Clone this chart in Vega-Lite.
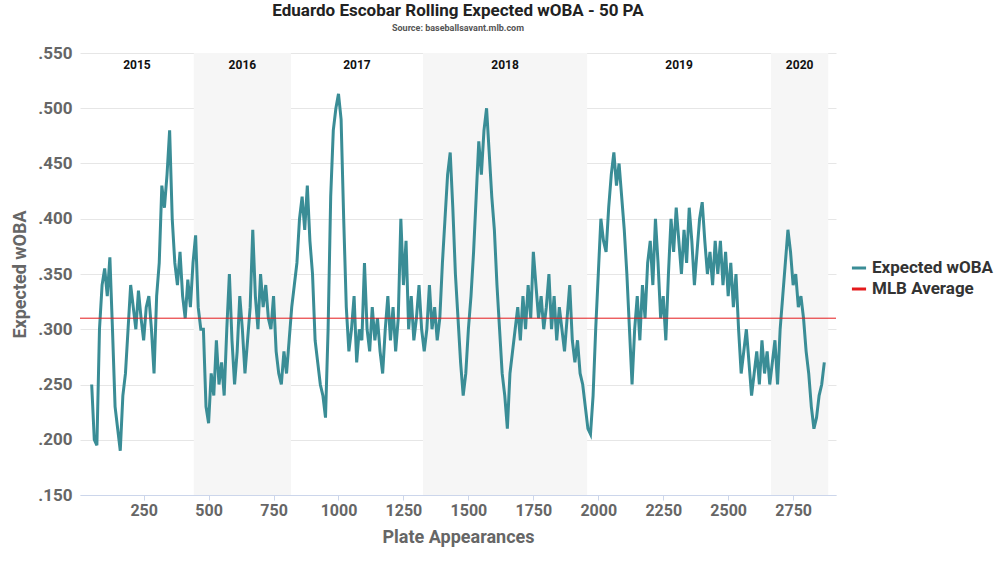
{
  "$schema": "https://vega.github.io/schema/vega-lite/v6.json",
  "width": 756,
  "height": 442,
  "autosize": "none",
  "padding": {"left": 80, "top": 53, "right": 164, "bottom": 68},
  "background": "white",
  "config": {"font": "Roboto", "view": {"stroke": null}},
  "title": {
    "text": "Eduardo Escobar Rolling Expected wOBA - 50 PA",
    "subtitle": "Source: baseballsavant.mlb.com",
    "fontSize": 17, "fontWeight": "bold", "color": "#222",
    "subtitleFontSize": 9, "subtitleFontWeight": "bold", "subtitleColor": "#555",
    "anchor": "middle", "offset": 10, "subtitlePadding": 4
  },
  "datasets": {
    "years": [
      {"year": "2015", "x1": 5, "x2": 443, "shade": "no"},
      {"year": "2016", "x1": 443, "x2": 817, "shade": "yes"},
      {"year": "2017", "x1": 817, "x2": 1325, "shade": "no"},
      {"year": "2018", "x1": 1325, "x2": 1957, "shade": "yes"},
      {"year": "2019", "x1": 1957, "x2": 2665, "shade": "no"},
      {"year": "2020", "x1": 2665, "x2": 2885, "shade": "yes"}
    ],
    "avg": [{"v": 0.31}],
    "xwoba": [
      {"pa":50,"v":0.25},{"pa":60,"v":0.2},{"pa":70,"v":0.195},{"pa":80,"v":0.3},{"pa":90,"v":0.34},{"pa":100,"v":0.355},{"pa":110,"v":0.33},{"pa":120,"v":0.365},{"pa":130,"v":0.3},{"pa":140,"v":0.23},{"pa":150,"v":0.21},{"pa":160,"v":0.19},{"pa":170,"v":0.24},{"pa":180,"v":0.26},{"pa":190,"v":0.3},{"pa":200,"v":0.34},{"pa":210,"v":0.32},{"pa":220,"v":0.3},{"pa":230,"v":0.335},{"pa":240,"v":0.31},{"pa":250,"v":0.29},{"pa":260,"v":0.32},{"pa":270,"v":0.33},{"pa":280,"v":0.3},{"pa":290,"v":0.26},{"pa":300,"v":0.33},{"pa":310,"v":0.36},{"pa":320,"v":0.43},{"pa":330,"v":0.41},{"pa":340,"v":0.44},{"pa":350,"v":0.48},{"pa":360,"v":0.4},{"pa":370,"v":0.36},{"pa":380,"v":0.34},{"pa":390,"v":0.37},{"pa":400,"v":0.33},{"pa":410,"v":0.31},{"pa":420,"v":0.345},{"pa":430,"v":0.32},{"pa":440,"v":0.36},{"pa":450,"v":0.385},{"pa":460,"v":0.32},{"pa":470,"v":0.3},{"pa":480,"v":0.3},{"pa":490,"v":0.23},{"pa":500,"v":0.215},{"pa":510,"v":0.26},{"pa":520,"v":0.24},{"pa":530,"v":0.29},{"pa":540,"v":0.25},{"pa":550,"v":0.27},{"pa":560,"v":0.24},{"pa":570,"v":0.3},{"pa":580,"v":0.35},{"pa":590,"v":0.29},{"pa":600,"v":0.25},{"pa":610,"v":0.28},{"pa":620,"v":0.33},{"pa":630,"v":0.3},{"pa":640,"v":0.26},{"pa":650,"v":0.29},{"pa":660,"v":0.32},{"pa":670,"v":0.39},{"pa":680,"v":0.33},{"pa":690,"v":0.3},{"pa":700,"v":0.35},{"pa":710,"v":0.32},{"pa":720,"v":0.34},{"pa":730,"v":0.31},{"pa":740,"v":0.3},{"pa":750,"v":0.33},{"pa":760,"v":0.28},{"pa":770,"v":0.26},{"pa":780,"v":0.25},{"pa":790,"v":0.28},{"pa":800,"v":0.26},{"pa":810,"v":0.29},{"pa":820,"v":0.32},{"pa":830,"v":0.34},{"pa":840,"v":0.36},{"pa":850,"v":0.4},{"pa":860,"v":0.42},{"pa":870,"v":0.39},{"pa":880,"v":0.43},{"pa":890,"v":0.38},{"pa":900,"v":0.35},{"pa":910,"v":0.29},{"pa":920,"v":0.27},{"pa":930,"v":0.25},{"pa":940,"v":0.24},{"pa":950,"v":0.22},{"pa":960,"v":0.3},{"pa":970,"v":0.42},{"pa":980,"v":0.48},{"pa":990,"v":0.5},{"pa":1000,"v":0.513},{"pa":1010,"v":0.49},{"pa":1020,"v":0.4},{"pa":1030,"v":0.32},{"pa":1040,"v":0.28},{"pa":1050,"v":0.3},{"pa":1060,"v":0.33},{"pa":1070,"v":0.27},{"pa":1080,"v":0.3},{"pa":1090,"v":0.29},{"pa":1100,"v":0.36},{"pa":1110,"v":0.3},{"pa":1120,"v":0.28},{"pa":1130,"v":0.32},{"pa":1140,"v":0.29},{"pa":1150,"v":0.31},{"pa":1160,"v":0.28},{"pa":1170,"v":0.26},{"pa":1180,"v":0.3},{"pa":1190,"v":0.33},{"pa":1200,"v":0.29},{"pa":1210,"v":0.32},{"pa":1220,"v":0.28},{"pa":1230,"v":0.31},{"pa":1240,"v":0.4},{"pa":1250,"v":0.34},{"pa":1260,"v":0.38},{"pa":1270,"v":0.3},{"pa":1280,"v":0.33},{"pa":1290,"v":0.29},{"pa":1300,"v":0.31},{"pa":1310,"v":0.34},{"pa":1320,"v":0.3},{"pa":1330,"v":0.28},{"pa":1340,"v":0.3},{"pa":1350,"v":0.34},{"pa":1360,"v":0.3},{"pa":1370,"v":0.32},{"pa":1380,"v":0.29},{"pa":1390,"v":0.31},{"pa":1400,"v":0.36},{"pa":1410,"v":0.4},{"pa":1420,"v":0.44},{"pa":1430,"v":0.46},{"pa":1440,"v":0.41},{"pa":1450,"v":0.35},{"pa":1460,"v":0.31},{"pa":1470,"v":0.27},{"pa":1480,"v":0.24},{"pa":1490,"v":0.26},{"pa":1500,"v":0.3},{"pa":1510,"v":0.33},{"pa":1520,"v":0.37},{"pa":1530,"v":0.42},{"pa":1540,"v":0.47},{"pa":1550,"v":0.44},{"pa":1560,"v":0.48},{"pa":1570,"v":0.5},{"pa":1580,"v":0.46},{"pa":1590,"v":0.42},{"pa":1600,"v":0.39},{"pa":1610,"v":0.34},{"pa":1620,"v":0.3},{"pa":1630,"v":0.26},{"pa":1640,"v":0.24},{"pa":1650,"v":0.21},{"pa":1660,"v":0.26},{"pa":1670,"v":0.28},{"pa":1680,"v":0.3},{"pa":1690,"v":0.32},{"pa":1700,"v":0.29},{"pa":1710,"v":0.33},{"pa":1720,"v":0.3},{"pa":1730,"v":0.34},{"pa":1740,"v":0.31},{"pa":1750,"v":0.37},{"pa":1760,"v":0.34},{"pa":1770,"v":0.31},{"pa":1780,"v":0.33},{"pa":1790,"v":0.3},{"pa":1800,"v":0.32},{"pa":1810,"v":0.35},{"pa":1820,"v":0.3},{"pa":1830,"v":0.33},{"pa":1840,"v":0.29},{"pa":1850,"v":0.32},{"pa":1860,"v":0.3},{"pa":1870,"v":0.28},{"pa":1880,"v":0.31},{"pa":1890,"v":0.34},{"pa":1900,"v":0.29},{"pa":1910,"v":0.27},{"pa":1920,"v":0.29},{"pa":1930,"v":0.26},{"pa":1940,"v":0.25},{"pa":1950,"v":0.23},{"pa":1960,"v":0.21},{"pa":1970,"v":0.205},{"pa":1980,"v":0.24},{"pa":1990,"v":0.3},{"pa":2000,"v":0.35},{"pa":2010,"v":0.4},{"pa":2020,"v":0.38},{"pa":2030,"v":0.37},{"pa":2040,"v":0.41},{"pa":2050,"v":0.44},{"pa":2060,"v":0.46},{"pa":2070,"v":0.43},{"pa":2080,"v":0.45},{"pa":2090,"v":0.42},{"pa":2100,"v":0.39},{"pa":2110,"v":0.35},{"pa":2120,"v":0.3},{"pa":2130,"v":0.25},{"pa":2140,"v":0.3},{"pa":2150,"v":0.33},{"pa":2160,"v":0.29},{"pa":2170,"v":0.34},{"pa":2180,"v":0.31},{"pa":2190,"v":0.36},{"pa":2200,"v":0.38},{"pa":2210,"v":0.34},{"pa":2220,"v":0.4},{"pa":2230,"v":0.36},{"pa":2240,"v":0.31},{"pa":2250,"v":0.33},{"pa":2260,"v":0.29},{"pa":2270,"v":0.35},{"pa":2280,"v":0.4},{"pa":2290,"v":0.37},{"pa":2300,"v":0.41},{"pa":2310,"v":0.38},{"pa":2320,"v":0.35},{"pa":2330,"v":0.39},{"pa":2340,"v":0.36},{"pa":2350,"v":0.41},{"pa":2360,"v":0.38},{"pa":2370,"v":0.34},{"pa":2380,"v":0.37},{"pa":2390,"v":0.4},{"pa":2400,"v":0.415},{"pa":2410,"v":0.38},{"pa":2420,"v":0.35},{"pa":2430,"v":0.37},{"pa":2440,"v":0.34},{"pa":2450,"v":0.38},{"pa":2460,"v":0.35},{"pa":2470,"v":0.38},{"pa":2480,"v":0.34},{"pa":2490,"v":0.37},{"pa":2500,"v":0.33},{"pa":2510,"v":0.36},{"pa":2520,"v":0.32},{"pa":2530,"v":0.35},{"pa":2540,"v":0.3},{"pa":2550,"v":0.26},{"pa":2560,"v":0.28},{"pa":2570,"v":0.3},{"pa":2580,"v":0.27},{"pa":2590,"v":0.24},{"pa":2600,"v":0.26},{"pa":2610,"v":0.28},{"pa":2620,"v":0.25},{"pa":2630,"v":0.29},{"pa":2640,"v":0.26},{"pa":2650,"v":0.28},{"pa":2660,"v":0.25},{"pa":2670,"v":0.27},{"pa":2680,"v":0.29},{"pa":2690,"v":0.25},{"pa":2700,"v":0.3},{"pa":2710,"v":0.33},{"pa":2720,"v":0.36},{"pa":2730,"v":0.39},{"pa":2740,"v":0.37},{"pa":2750,"v":0.34},{"pa":2760,"v":0.35},{"pa":2770,"v":0.32},{"pa":2780,"v":0.33},{"pa":2790,"v":0.31},{"pa":2800,"v":0.28},{"pa":2810,"v":0.26},{"pa":2820,"v":0.23},{"pa":2830,"v":0.21},{"pa":2840,"v":0.22},{"pa":2850,"v":0.24},{"pa":2860,"v":0.25},{"pa":2870,"v":0.27}
    ]
  },
  "layer": [
    {
      "data": {"name": "years"},
      "transform": [{"filter": "datum.shade === 'yes'"}],
      "mark": {"type": "rect", "color": "#f6f6f6"},
      "encoding": {
        "x": {"field": "x1", "type": "quantitative"},
        "x2": {"field": "x2"}
      }
    },
    {
      "data": {"name": "xwoba"},
      "mark": {"type": "line", "strokeWidth": 3},
      "encoding": {
        "x": {
          "field": "pa", "type": "quantitative",
          "scale": {"domain": [5, 2915], "nice": false, "zero": false},
          "axis": {
            "values": [250, 500, 750, 1000, 1250, 1500, 1750, 2000, 2250, 2500, 2750],
            "format": "d", "grid": false, "domainColor": "#ccd6eb", "tickColor": "#ccd6eb",
            "labelFontSize": 16, "labelFontWeight": "bold", "labelColor": "#666",
            "title": "Plate Appearances", "titleFontSize": 18, "titleColor": "#666", "titlePadding": 10
          }
        },
        "y": {
          "field": "v", "type": "quantitative",
          "scale": {"domain": [0.15, 0.55], "nice": false, "zero": false},
          "axis": {
            "values": [0.15, 0.2, 0.25, 0.3, 0.35, 0.4, 0.45, 0.5, 0.55],
            "labelExpr": "replace(format(datum.value, '.3f'), '0.', '.')",
            "domain": false, "ticks": false, "gridColor": "#e6e6e6",
            "labelFontSize": 17, "labelFontWeight": "bold", "labelColor": "#666", "labelPadding": 8,
            "title": "Expected wOBA", "titleFontSize": 18, "titleColor": "#666", "titlePadding": 8
          }
        },
        "color": {
          "datum": "Expected wOBA",
          "scale": {"domain": ["Expected wOBA", "MLB Average"], "range": ["#3a8d96", "#e41a1c"]},
          "legend": {
            "title": null, "orient": "none", "legendX": 770, "legendY": 206, "symbolType": "stroke",
            "symbolStrokeWidth": 3, "symbolSize": 200, "labelFontSize": 17,
            "labelFontWeight": "bold", "labelColor": "#333", "rowPadding": 4
          }
        }
      }
    },
    {
      "data": {"name": "avg"},
      "mark": {"type": "rule", "strokeWidth": 1},
      "encoding": {
        "y": {"field": "v", "type": "quantitative"},
        "color": {"datum": "MLB Average"}
      }
    },
    {
      "data": {"name": "years"},
      "mark": {"type": "text", "fontSize": 12, "fontWeight": "bold", "color": "#111"},
      "encoding": {
        "x": {"field": "mid", "type": "quantitative"},
        "y": {"datum": 0.539},
        "text": {"field": "year"}
      },
      "transform": [{"calculate": "(datum.x1 + datum.x2) / 2", "as": "mid"}]
    }
  ]
}
